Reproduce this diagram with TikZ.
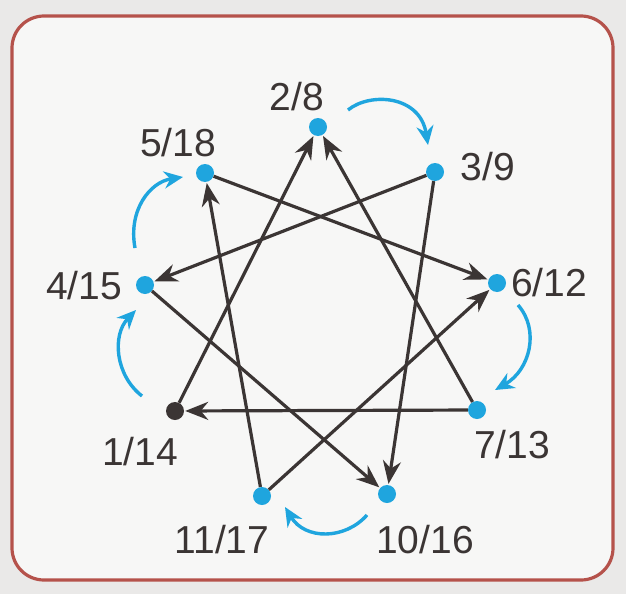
\documentclass[tikz,border=0pt]{standalone}
\usepackage{fontspec}
\setmainfont{Liberation Sans}
\usetikzlibrary{arrows.meta}
\definecolor{dotblue}{HTML}{1FA5DE}
\definecolor{ink}{HTML}{3B3534}
\definecolor{frame}{HTML}{B5524B}
\definecolor{outer}{HTML}{EAE9E8}
\definecolor{inner}{HTML}{F7F7F6}
\tikzset{
  bdot/.style={circle,fill=dotblue,draw=none,inner sep=0pt,minimum size=18pt},
  kdot/.style={circle,fill=ink,draw=none,inner sep=0pt,minimum size=18pt},
  lab/.style={text=ink,inner sep=0pt,font=\fontsize{39}{42}\selectfont},
  edge/.style={draw=ink,line width=3.2pt,-{Stealth[length=23pt,width=18pt]},shorten >=1pt},
  turn/.style={draw=dotblue,line width=3.4pt,-{Stealth[length=19pt,width=17pt]}}
}
\begin{document}
\begin{tikzpicture}[x=1pt,y=-1pt]
\useasboundingbox (0,0) rectangle (626,594);
\fill[outer] (0,0) rectangle (626,594);
\draw[frame,line width=3.2pt,fill=inner,rounded corners=32pt] (12,16) rectangle (613,580);
% dots
\node[bdot] (n2) at (318,127) {};
\node[bdot] (n3) at (435,172) {};
\node[bdot] (n6) at (497,283) {};
\node[bdot] (n7) at (477,410) {};
\node[bdot] (n10) at (387,494) {};
\node[bdot] (n11) at (262,496) {};
\node[kdot] (n1) at (175,411) {};
\node[bdot] (n4) at (145,285) {};
\node[bdot] (n5) at (205,173) {};
% labels
\node[lab] (l2) at (297,97) {2/8};
\node[lab] (l3) at (488,167) {3/9};
\node[lab] (l6) at (549,283) {6/12};
\node[lab] (l7) at (512,445) {7/13};
\node[lab] (l10) at (425,540) {10/16};
\node[lab] (l11) at (222,540) {11/17};
\node[lab] (l1) at (140,452) {1/14};
\node[lab] (l4) at (84,286) {4/15};
\node[lab] (l5) at (178,143) {5/18};
% dark edges
\draw[edge] (n1) -- (n2);
\draw[edge] (n7) -- (n2);
\draw[edge] (n3) -- (n4);
\draw[edge] (n5) -- (n6);
\draw[edge] (n7) -- (n1);
\draw[edge] (n3) -- (n10);
\draw[edge] (n11) -- (n6);
\draw[edge] (n4) -- (n10);
\draw[edge] (n11) -- (n5);
% blue turn arrows
\coordinate (a1) at (348,110); \coordinate (b1) at (428,145);
\coordinate (a2) at (518,305); \coordinate (b2) at (495,390);
\coordinate (a3) at (367,515); \coordinate (b3) at (285,507);
\coordinate (a4) at (142,396); \coordinate (b4) at (136,310);
\coordinate (a5) at (135,248); \coordinate (b5) at (183,177);
\draw[turn] (a1) .. controls (370,92) and (420,95) .. (b1);
\draw[turn] (a2) .. controls (540,330) and (530,370) .. (b2);
\draw[turn] (a3) .. controls (345,540) and (305,540) .. (b3);
\draw[turn] (a4) .. controls (115,375) and (112,335) .. (b4);
\draw[turn] (a5) .. controls (128,210) and (150,182) .. (b5);
\end{tikzpicture}
\end{document}
